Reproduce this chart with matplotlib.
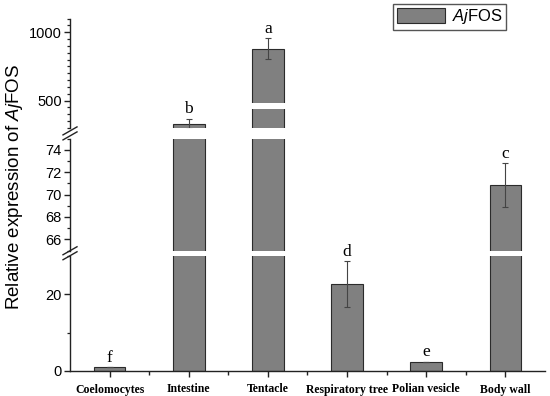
import matplotlib
matplotlib.use('Agg')
import matplotlib.pyplot as plt
from matplotlib.ticker import MultipleLocator, FixedLocator, NullLocator
from matplotlib.lines import Line2D
from matplotlib.patches import Patch

plt.rcParams['font.family'] = ['Liberation Sans', 'DejaVu Sans']
plt.rcParams['mathtext.fontset'] = 'custom'
plt.rcParams['mathtext.rm'] = 'Liberation Sans'
plt.rcParams['mathtext.it'] = 'Liberation Sans:italic'

# data
tissues = ['Coelomocytes', 'Intestine', 'Tentacle', 'Respiratory tree', 'Polian vesicle', 'Body wall']
expression = [1.0, 330, 880, 22.6, 2.4, 70.85]
errors = [0.0, 38, 75, 6.0, 0.0, 1.95]
letters = ['f', 'b', 'a', 'd', 'e', 'c']

# broken y axis: (low, high, major step, minor step), top to bottom
segments = [(300, 1100, 500, 50), (65, 75, 2, 1), (0, 30, 20, 10)]

W, H = 550, 396
fig = plt.figure(figsize=(W / 100, H / 100), dpi=100)

# axes boxes in pixels (top, bottom) of the image
boxes = [(18.6, 128.0), (138.8, 250.5), (256.0, 371.0)]
left_px, right_px = 70, 545

bar_color = '#808080'
edge_color = '#2b2b2b'
x = list(range(len(tissues)))

axes = []
for (lo, hi, major, minor), (ytop, ybot) in zip(segments, boxes):
    ax = fig.add_axes([left_px / W, 1 - ybot / H, (right_px - left_px) / W, (ybot - ytop) / H])
    ax.bar(x, expression, width=0.4, color=bar_color, edgecolor=edge_color, linewidth=0.8, zorder=1)
    ax.errorbar(x, expression, yerr=errors, fmt='none', ecolor='#444444', elinewidth=0.8,
                capsize=2.5, capthick=0.8, zorder=3)
    ax.set_ylim(lo, hi)
    ax.set_xlim(-0.5, len(tissues) - 0.5)
    ax.yaxis.set_major_locator(MultipleLocator(major))
    ax.yaxis.set_minor_locator(MultipleLocator(minor))
    for s in ['top', 'right', 'bottom']:
        ax.spines[s].set_visible(False)
    ax.spines['left'].set_linewidth(1.0)
    ax.spines['left'].set_color('#222222')
    ax.tick_params(axis='y', which='major', direction='out', length=4, width=1.0,
                   labelsize=10.5, color='#222222', pad=2)
    ax.tick_params(axis='y', which='minor', direction='out', length=2.5, width=0.9, color='#222222')
    ax.xaxis.set_major_locator(NullLocator())
    ax.patch.set_alpha(0)
    axes.append(ax)

ax_top, ax_mid, ax_bot = axes

# white band through the tentacle bar, as in the original
ax_top.axhspan(440, 483, color='white', zorder=1.5, lw=0)

# bottom axis: categories
ax_bot.spines['bottom'].set_visible(True)
ax_bot.spines['bottom'].set_linewidth(1.0)
ax_bot.spines['bottom'].set_color('#222222')
ax_bot.xaxis.set_major_locator(FixedLocator(x))
ax_bot.xaxis.set_minor_locator(FixedLocator([i + 0.5 for i in x[:-1]]))
ax_bot.set_xticklabels(tissues, family='Liberation Serif', fontweight='bold', fontsize=8.5)
ax_bot.tick_params(axis='x', which='major', direction='out', length=4, width=1.0, color='#222222', pad=5)
ax_bot.tick_params(axis='x', which='minor', direction='out', length=3, width=1.0, color='#222222')

# significance letters above error bars
for i, (v, e, t) in enumerate(zip(expression, errors, letters)):
    top = v + e
    for ax, (lo, hi, _, _) in zip(axes, segments):
        if lo <= top <= hi:
            ax.annotate(t, (i, top), xytext=(0, 1), textcoords='offset points', ha='center',
                        va='bottom', family='Liberation Serif', fontsize=12.5, annotation_clip=False)
            break

# break marks on the left spine
for upper, lower in [(ax_top, ax_mid), (ax_mid, ax_bot)]:
    yc = (upper.get_position().y0 + lower.get_position().y1) / 2
    xc = upper.get_position().x0
    dx, dy = 7 / W, 4 / H
    for off in (-2.5 / H, 2.5 / H):
        fig.add_artist(Line2D([xc - dx, xc + dx], [yc + off - dy, yc + off + dy],
                              color='#222222', lw=1.0, transform=fig.transFigure))

fig.text(15 / W, 1 - 187 / H, r'Relative expression of $\it{Aj}$FOS', rotation=90,
         ha='center', va='center', fontsize=13.5)

handle = Patch(facecolor=bar_color, edgecolor=edge_color, linewidth=0.8)
fig.legend([handle], [r'$\it{Aj}$FOS'], loc='upper right', bbox_to_anchor=(506 / W, 1 - 4 / H),
           fontsize=12, frameon=True, fancybox=False, edgecolor='#555555', framealpha=1,
           borderpad=0.2, handlelength=2.9, handleheight=1.0, handletextpad=0.4, borderaxespad=0)

fig.savefig('out.png', dpi=100)
